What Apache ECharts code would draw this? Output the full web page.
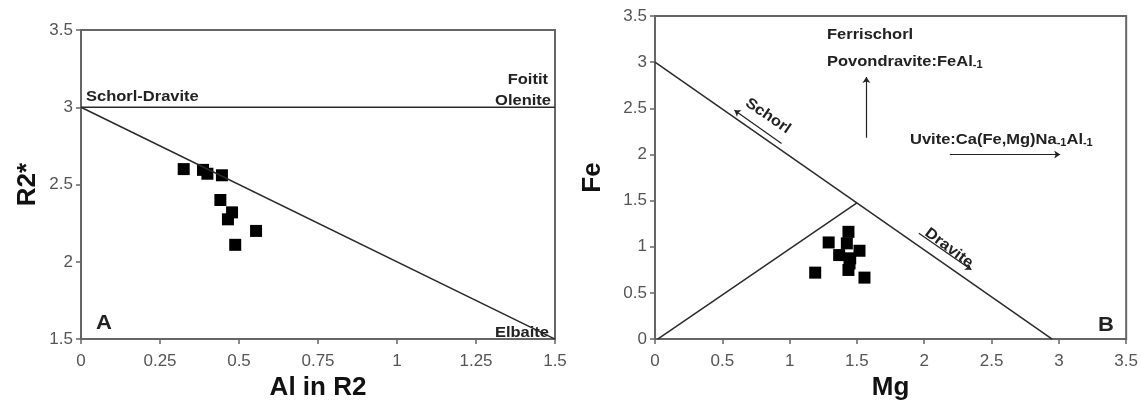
<!DOCTYPE html>
<html>
<head>
<meta charset="utf-8">
<script src="https://cdn.jsdelivr.net/npm/echarts@6/dist/echarts.min.js"></script>
<style>
  html, body { margin: 0; padding: 0; background: #fff; }
  #chart { width: 1141px; height: 406px; }
</style>
</head>
<body>
<div id="chart"></div>
<script>
  // panel A: Al in R2 vs R2*
  const alInR2 = [0.325, 0.386, 0.40, 0.446, 0.441, 0.478, 0.465, 0.554, 0.488]
  const r2Star = [2.60, 2.595, 2.57, 2.56, 2.40, 2.32, 2.275, 2.20, 2.11]
  const boundaryA1 = [[0, 3], [1.5, 3]]
  const boundaryA2 = [[0, 3], [1.5, 1.5]]

  // panel B: Mg vs Fe
  const mg = [1.19, 1.29, 1.437, 1.425, 1.368, 1.519, 1.45, 1.445, 1.437, 1.556]
  const fe = [0.72, 1.047, 1.162, 1.037, 0.91, 0.957, 0.875, 0.82, 0.749, 0.666]
  const boundaryB1 = [[0, 3], [2.95, 0]]
  const boundaryB2 = [[0.02, 0], [1.5, 1.475]]
  const arrowsB = [
    [[1.57, 2.18], [1.57, 2.84]],
    [[2.19, 2.0], [3.01, 2.0]],
    [[0.94, 2.12], [0.59, 2.48]],
    [[1.96, 1.147], [2.35, 0.75]]
  ]

  const font = 'Liberation Sans'
  const frame = {lineStyle: {color: '#666', width: 2}}

  function pair(xs, ys) {
    return xs.map((x, i) => [x, ys[i]])
  }

  function xAxisOf(idx, name, max, interval) {
    return {
      gridIndex: idx, type: 'value', min: 0, max: max, interval: interval,
      name: name, nameLocation: 'middle', nameGap: 33,
      nameTextStyle: {fontFamily: font, fontSize: 26, fontWeight: 'bold', color: '#111'},
      axisLine: {show: true, ...frame},
      axisTick: {show: true, length: 5, lineStyle: {color: '#666', width: 1.5}},
      axisLabel: {margin: 14, fontFamily: font, fontSize: 17, color: '#555'},
      splitLine: {show: false}
    }
  }

  function yAxisOf(idx, name, min, max, gap) {
    return {
      gridIndex: idx, type: 'value', min: min, max: max, interval: 0.5,
      name: name, nameLocation: 'middle', nameGap: gap, nameRotate: 90,
      nameTextStyle: {fontFamily: font, fontSize: 26, fontWeight: 'bold', color: '#111'},
      axisLine: {show: true, ...frame},
      axisTick: {show: true, length: 5, lineStyle: {color: '#666', width: 1.5}},
      axisLabel: {margin: 8, fontFamily: font, fontSize: 17, color: '#555'},
      splitLine: {show: false}
    }
  }

  const lineStyle = {color: '#2a2a2a', width: 1.5}
  const pointStyle = {color: '#000', opacity: 1}

  function label(text, x, y, opts) {
    return Object.assign({
      type: 'text', x: x, y: y, scaleX: 1.1,
      style: Object.assign({
        text: text, fontFamily: font, fontSize: 15, fontWeight: 'bold', fill: '#222',
        align: 'left', verticalAlign: 'middle'
      }, (opts && opts.style) || {})
    }, (opts && opts.el) || {})
  }

  const sub = {s: {fontSize: 10, fontWeight: 'bold', fontFamily: font, fill: '#222', padding: [6, 0, 0, 0]}}

  let option = {
    animation: false,
    grid: [
      {left: 81, top: 30, width: 474, height: 312, show: true, borderColor: '#666', borderWidth: 2},
      {left: 655, top: 16, width: 472, height: 326, show: true, borderColor: '#666', borderWidth: 2}
    ],
    xAxis: [xAxisOf(0, 'Al in R2', 1.5, 0.25), xAxisOf(1, 'Mg', 3.5, 0.5)],
    yAxis: [yAxisOf(0, 'R2*', 1.5, 3.5, 40), yAxisOf(1, 'Fe', 0, 3.5, 49)],
    series: [
      {type: 'line', xAxisIndex: 0, yAxisIndex: 0, data: boundaryA1, symbol: 'none', lineStyle: lineStyle},
      {type: 'line', xAxisIndex: 0, yAxisIndex: 0, data: boundaryA2, symbol: 'none', lineStyle: lineStyle},
      {type: 'scatter', xAxisIndex: 0, yAxisIndex: 0, data: pair(alInR2, r2Star), symbol: 'rect', symbolSize: 12, itemStyle: pointStyle},
      {type: 'line', xAxisIndex: 1, yAxisIndex: 1, data: boundaryB1, symbol: 'none', lineStyle: lineStyle},
      {type: 'line', xAxisIndex: 1, yAxisIndex: 1, data: boundaryB2, symbol: 'none', lineStyle: lineStyle},
      {
        type: 'lines', coordinateSystem: 'cartesian2d', xAxisIndex: 1, yAxisIndex: 1,
        data: arrowsB.map(a => ({coords: a})),
        symbol: ['none', 'arrow'], symbolSize: 6,
        lineStyle: {color: '#222', width: 1.2, opacity: 1}
      },
      {type: 'scatter', xAxisIndex: 1, yAxisIndex: 1, data: pair(mg, fe), symbol: 'rect', symbolSize: 12, itemStyle: pointStyle}
    ],
    graphic: [
      label('Schorl-Dravite', 86, 97),
      label('Foitit', 548, 80, {style: {align: 'right'}}),
      label('Olenite', 551, 101, {style: {align: 'right'}}),
      label('Elbaite', 549, 333, {style: {align: 'right'}}),
      label('A', 96, 323, {style: {fontSize: 20}}),
      label('Ferrischorl', 827, 35),
      label('Povondravite:FeAl{s|-1}', 827, 62, {style: {rich: sub}}),
      label('Uvite:Ca(Fe,Mg)Na{s|-1}Al{s|-1}', 910, 140, {style: {rich: sub}}),
      label('Schorl', 768, 116, {style: {align: 'center'}, el: {rotation: -0.6}}),
      label('Dravite', 949, 248, {style: {align: 'center'}, el: {rotation: -0.64}}),
      label('B', 1098, 325, {style: {fontSize: 20}})
    ]
  }

  let myChart = echarts.init(document.getElementById('chart'))
  myChart.setOption(option)
</script>
</body>
</html>
